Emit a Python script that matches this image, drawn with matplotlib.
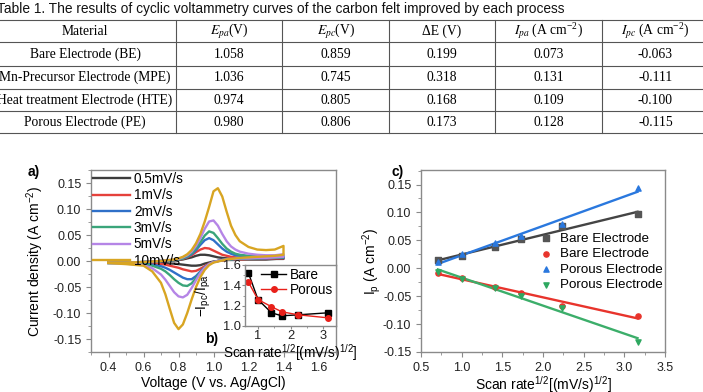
import matplotlib
matplotlib.use("Agg")
import matplotlib.pyplot as plt
import numpy as np
from matplotlib.ticker import MultipleLocator, AutoMinorLocator

plt.rcParams["font.family"] = ["Liberation Sans", "DejaVu Sans"]
plt.rcParams["mathtext.fontset"] = "custom"
plt.rcParams["mathtext.rm"] = "Liberation Sans"
plt.rcParams["mathtext.it"] = "Liberation Sans:italic"
plt.rcParams["mathtext.default"] = "regular"

# ---- table data ----
table_title = "Table 1. The results of cyclic voltammetry curves of the carbon felt improved by each process"
headers = ["Material", r"$\mathit{E}_{\mathit{pa}}$(V)", r"$\mathit{E}_{\mathit{pc}}$(V)", "\u0394E (V)",
           r"$\mathit{I}_{\mathit{pa}}$ (A cm$^{-2}$)", r"$\mathit{I}_{\mathit{pc}}$ (A cm$^{-2}$)"]
materials = ["Bare Electrode (BE)", "Mn-Precursor Electrode (MPE)",
             "Heat treatment Electrode (HTE)", "Porous Electrode (PE)"]
e_pa = [1.058, 1.036, 0.974, 0.980]
e_pc = [0.859, 0.745, 0.805, 0.806]
delta_e = [0.199, 0.318, 0.168, 0.173]
i_pa = [0.073, 0.131, 0.109, 0.128]
i_pc = [-0.063, -0.111, -0.100, -0.115]

# ---- CV curves (panel a), porous electrode ----
scan_labels = ["0.5mV/s", "1mV/s", "2mV/s", "3mV/s", "5mV/s", "10mV/s"]
scan_rates = np.array([0.5, 1, 2, 3, 5, 10])
cv_colors = ["#3c3c3c", "#e5413b", "#2f70c8", "#3aa57a", "#b585e6", "#d8a522"]

volts = [0.40, 0.50, 0.60, 0.65, 0.70, 0.725, 0.75, 0.775, 0.80, 0.825, 0.85, 0.875,
         0.90, 0.925, 0.95, 0.975, 1.00, 1.025, 1.05, 1.075, 1.10, 1.125, 1.15,
         1.20, 1.25, 1.30, 1.35, 1.40]

fwd_05 = [-0.003, -0.003, -0.002, -0.001, 0.000, 0.000, 0.001, 0.001, 0.002, 0.003, 0.005, 0.007,
          0.010, 0.012, 0.012, 0.011, 0.009, 0.007, 0.006, 0.005, 0.004, 0.004, 0.004,
          0.004, 0.004, 0.004, 0.004, 0.005]
rev_05 = [-0.003, -0.003, -0.003, -0.003, -0.004, -0.004, -0.005, -0.005, -0.006, -0.007, -0.008, -0.009,
          -0.009, -0.008, -0.005, -0.003, -0.001, 0.000, 0.001, 0.002, 0.002, 0.002, 0.003,
          0.003, 0.003, 0.003, 0.004, 0.004]
fwd_1 = [-0.003, -0.003, -0.002, -0.001, 0.000, 0.000, 0.001, 0.002, 0.003, 0.004, 0.007, 0.011,
         0.017, 0.022, 0.025, 0.024, 0.020, 0.016, 0.012, 0.010, 0.008, 0.007, 0.006,
         0.006, 0.006, 0.006, 0.006, 0.007]
rev_1 = [-0.003, -0.004, -0.004, -0.005, -0.006, -0.007, -0.009, -0.011, -0.013, -0.016, -0.018, -0.020,
         -0.019, -0.015, -0.010, -0.005, -0.002, 0.000, 0.001, 0.002, 0.003, 0.003, 0.003,
         0.004, 0.004, 0.004, 0.005, 0.005]
fwd_2 = [-0.003, -0.003, -0.002, -0.001, 0.000, 0.000, 0.001, 0.002, 0.003, 0.005, 0.008, 0.013,
         0.021, 0.031, 0.040, 0.044, 0.040, 0.032, 0.024, 0.018, 0.014, 0.011, 0.010,
         0.008, 0.008, 0.008, 0.008, 0.009]
rev_2 = [-0.004, -0.004, -0.005, -0.007, -0.010, -0.013, -0.017, -0.022, -0.027, -0.032, -0.035, -0.035,
         -0.029, -0.020, -0.012, -0.006, -0.002, 0.000, 0.002, 0.003, 0.003, 0.004, 0.004,
         0.005, 0.005, 0.005, 0.006, 0.006]
fwd_3 = [-0.003, -0.003, -0.002, -0.001, 0.000, 0.001, 0.001, 0.002, 0.003, 0.005, 0.009, 0.015,
         0.024, 0.036, 0.049, 0.057, 0.054, 0.044, 0.033, 0.024, 0.018, 0.014, 0.012,
         0.010, 0.009, 0.009, 0.009, 0.010]
rev_3 = [-0.004, -0.004, -0.006, -0.009, -0.015, -0.020, -0.027, -0.035, -0.042, -0.047, -0.048, -0.043,
         -0.033, -0.022, -0.013, -0.006, -0.002, 0.000, 0.002, 0.003, 0.003, 0.004, 0.004,
         0.005, 0.005, 0.006, 0.006, 0.007]
fwd_5 = [-0.003, -0.003, -0.002, -0.001, 0.000, 0.001, 0.002, 0.003, 0.004, 0.007, 0.011, 0.018,
         0.029, 0.044, 0.062, 0.076, 0.078, 0.068, 0.052, 0.038, 0.028, 0.022, 0.018,
         0.014, 0.012, 0.011, 0.011, 0.013]
rev_5 = [-0.004, -0.005, -0.008, -0.014, -0.026, -0.036, -0.048, -0.060, -0.068, -0.070, -0.065, -0.052,
         -0.037, -0.023, -0.013, -0.006, -0.002, 0.000, 0.002, 0.003, 0.004, 0.004, 0.005,
         0.005, 0.006, 0.006, 0.007, 0.008]
fwd_10 = [-0.003, -0.003, -0.002, -0.001, 0.000, 0.001, 0.002, 0.003, 0.005, 0.008, 0.013, 0.021,
          0.034, 0.052, 0.076, 0.104, 0.134, 0.140, 0.124, 0.095, 0.068, 0.050, 0.038,
          0.027, 0.022, 0.021, 0.022, 0.029]
rev_10 = [-0.004, -0.006, -0.009, -0.020, -0.042, -0.064, -0.092, -0.119, -0.131, -0.122, -0.100, -0.074,
          -0.050, -0.031, -0.017, -0.008, -0.003, -0.001, 0.001, 0.003, 0.004, 0.005, 0.006,
          0.007, 0.008, 0.009, 0.010, 0.012]

forward = [fwd_05, fwd_1, fwd_2, fwd_3, fwd_5, fwd_10]
reverse = [rev_05, rev_1, rev_2, rev_3, rev_5, rev_10]

# ---- panel b: peak current ratio ----
ratio_bare = [1.52, 1.26, 1.13, 1.10, 1.11, 1.13]
ratio_porous = [1.43, 1.26, 1.19, 1.14, 1.11, 1.08]

# ---- panel c: peak currents ----
ipa_bare = [0.014, 0.022, 0.038, 0.052, 0.075, 0.097]
ipc_bare = [-0.009, -0.017, -0.033, -0.045, -0.067, -0.085]
ipa_porous = [0.011, 0.026, 0.045, 0.058, 0.079, 0.144]
ipc_porous = [-0.006, -0.020, -0.036, -0.049, -0.071, -0.132]

sqrt_rate = np.sqrt(scan_rates)

W, H = 703, 392
fig = plt.figure(figsize=(W / 100, H / 100), dpi=100)

spine_col = "#8a8a8a"
fmt2 = plt.FuncFormatter(lambda y, p: "0.00" if abs(y) < 1e-9 else f"{y:.2f}")


def style_axes(ax, fs=9):
    for s in ax.spines.values():
        s.set_color(spine_col)
        s.set_linewidth(1.0)
    ax.tick_params(which="both", direction="out", color=spine_col, labelsize=fs,
                   labelcolor="#222222")
    ax.tick_params(which="major", length=3.5)
    ax.tick_params(which="minor", length=2)


# ---- table at the top (pixel coordinates) ----
tab = fig.add_axes([0, 0, 1, 1])
tab.set_xlim(0, W)
tab.set_ylim(H, 0)
tab.axis("off")
tab.patch.set_visible(False)

tab.text(-3, 9, table_title, fontsize=9.9, ha="left", va="center", color="#111111")
row_y = [31, 54, 77, 100, 122]
line_y = [19.5, 42, 65.5, 88.5, 111, 133]
col_x = [-6, 176, 282, 389, 495, 602, 709]
for y in line_y:
    tab.plot([0, W], [y, y], color="#555555", lw=0.8)
for x in col_x[1:-1]:
    tab.plot([x, x], [line_y[0], line_y[-1]], color="#555555", lw=0.8)
centers = [(col_x[i] + col_x[i + 1]) / 2 for i in range(6)]
for i, h in enumerate(headers):
    tab.text(centers[i], row_y[0], h, fontsize=9.8, ha="center", va="center",
             family="Liberation Serif", math_fontfamily="stix")
for r in range(4):
    vals = [materials[r], f"{e_pa[r]:.3f}", f"{e_pc[r]:.3f}", f"{delta_e[r]:.3f}",
            f"{i_pa[r]:.3f}", f"{i_pc[r]:.3f}"]
    for i, v in enumerate(vals):
        tab.text(centers[i], row_y[r + 1], v, fontsize=9.8, ha="center", va="center",
                 family="Liberation Serif")

# ---- panel a ----
axa = fig.add_axes([91 / W, 1 - 352 / H, 245 / W, 182 / H])
for lab, col, f, r in zip(scan_labels, cv_colors, forward, reverse):
    v = volts + volts[::-1]
    i = f + r[::-1]
    axa.plot(v, i, color=col, lw=1.7, label=lab)
axa.set_xlim(0.3, 1.7)
axa.set_ylim(-0.175, 0.175)
axa.set_xticks([0.4, 0.6, 0.8, 1.0, 1.2, 1.4, 1.6])
axa.xaxis.set_minor_locator(AutoMinorLocator(2))
axa.set_yticks([-0.15, -0.10, -0.05, 0.0, 0.05, 0.10, 0.15])
axa.yaxis.set_minor_locator(AutoMinorLocator(2))
axa.yaxis.set_major_formatter(fmt2)
style_axes(axa)
axa.set_xlabel("Voltage (V vs. Ag/AgCl)", fontsize=10, labelpad=2)
axa.set_ylabel("Current density (A cm$^{-2}$)", fontsize=10)
axa.yaxis.set_label_coords((46 - 91) / 245, 0.5)
axa.legend(loc="upper left", frameon=False, fontsize=9.8, handlelength=2.7,
           handletextpad=0.3, labelspacing=0.17, borderaxespad=0.0,
           borderpad=0.15, bbox_to_anchor=(0.0, 1.0))
fig.text(28 / W, 1 - 172 / H, "a)", fontsize=10, fontweight="bold", va="center")

# ---- panel b (inset) ----
axb = fig.add_axes([245 / W, 1 - 326 / H, 91 / W, 61 / H])
axb.plot(sqrt_rate, ratio_bare, "s-", color="black", ms=4, lw=1.0, label="Bare")
axb.plot(sqrt_rate, ratio_porous, "o-", color="#e8201a", ms=4, lw=1.0, label="Porous")
axb.set_xlim(0.6, 3.4)
axb.set_ylim(1.0, 1.6)
axb.set_xticks([1, 2, 3])
axb.xaxis.set_minor_locator(AutoMinorLocator(2))
axb.set_yticks([1.0, 1.2, 1.4, 1.6])
axb.yaxis.set_minor_locator(AutoMinorLocator(2))
style_axes(axb, fs=9.3)
axb.tick_params(which="major", length=2.5)
axb.tick_params(which="minor", length=1.5)
axb.tick_params(axis="both", pad=0.5)
axb.set_xlabel("Scan rate$^{1/2}$[(mV/s)$^{1/2}$]", fontsize=9.8, labelpad=0)
axb.set_ylabel("$-$I$_{pc}$/I$_{pa}$", fontsize=9.8)
axb.yaxis.set_label_coords((213 - 245) / 91, 0.5)
axb.legend(loc="upper right", frameon=False, fontsize=9.8, handlelength=1.8,
           handletextpad=0.3, labelspacing=0.1, borderaxespad=0.1, borderpad=0.1)
fig.text(205 / W, 1 - 339 / H, "b)", fontsize=10, fontweight="bold", va="center")

# ---- panel c ----
axc = fig.add_axes([421 / W, 1 - 352 / H, 244 / W, 182 / H])
series = [
    (ipa_bare, "s", "#555555", "#444444", "Bare Electrode"),
    (ipc_bare, "o", "#e8342c", "#e8342c", "Bare Electrode"),
    (ipa_porous, "^", "#2a78de", "#2a78de", "Porous Electrode"),
    (ipc_porous, "v", "#2ea860", "#3cae6a", "Porous Electrode"),
]
for vals, mk, mcol, lcol, lab in series:
    axc.scatter(sqrt_rate, vals, marker=mk, s=14, color=mcol, label=lab, zorder=3)
    k, b = np.polyfit(sqrt_rate, vals, 1)
    xs = np.array([sqrt_rate[0], sqrt_rate[-1]])
    axc.plot(xs, k * xs + b, color=lcol, lw=1.7, zorder=2)
axc.set_xlim(0.5, 3.5)
axc.set_ylim(-0.15, 0.176)
axc.xaxis.set_major_locator(MultipleLocator(0.5))
axc.xaxis.set_minor_locator(AutoMinorLocator(2))
axc.set_yticks([-0.15, -0.10, -0.05, 0.0, 0.05, 0.10, 0.15])
axc.yaxis.set_minor_locator(AutoMinorLocator(2))
axc.yaxis.set_major_formatter(fmt2)
style_axes(axc)
axc.set_xlabel("Scan rate$^{1/2}$[(mV/s)$^{1/2}$]", fontsize=10, labelpad=0.5)
axc.set_ylabel("I$_p$ (A cm$^{-2}$)", fontsize=10)
axc.yaxis.set_label_coords((383 - 421) / 244, 0.5)
axc.legend(loc="upper left", bbox_to_anchor=(0.47, 0.665), frameon=False, fontsize=9.6,
           handlelength=1.3, handletextpad=0.4, labelspacing=0.24, borderpad=0.1,
           borderaxespad=0.0)
fig.text(392 / W, 1 - 172 / H, "c)", fontsize=10, fontweight="bold", va="center")

fig.savefig("out.png", dpi=100)
